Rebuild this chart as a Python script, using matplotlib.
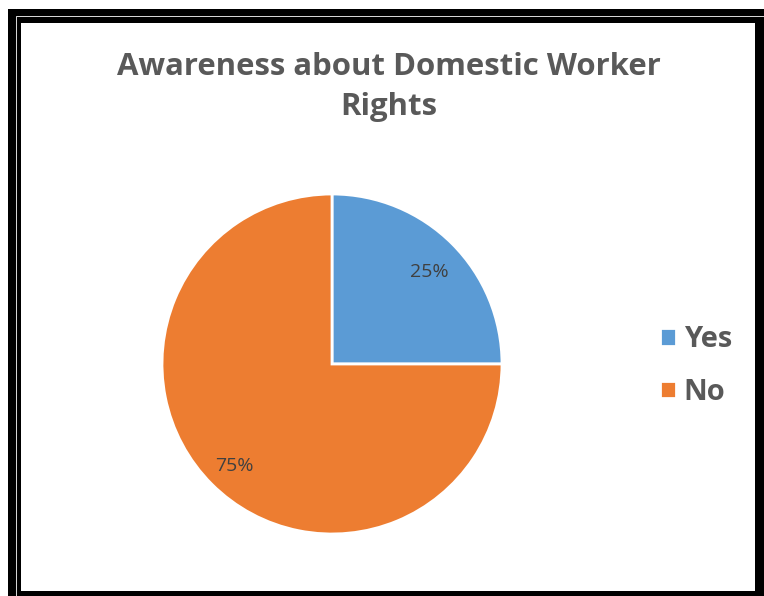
import matplotlib.pyplot as plt
from matplotlib.patches import Rectangle

labels = ["Yes", "No"]
shares = [25, 75]
colors = ["#5B9BD5", "#ED7D31"]

W, H = 764, 596

fig = plt.figure(figsize=(W / 100, H / 100), dpi=100)
fig.patch.set_facecolor("white")

# thick black frame round the chart area (kept below the axes)
fig.patches.append(Rectangle((8 / W, 0), (W - 8) / W, (H - 9) / H,
                             transform=fig.transFigure, facecolor="black",
                             edgecolor="none", zorder=-3))
fig.patches.append(Rectangle((15.5 / W, 0), (W - 15.5) / W, (H - 16) / H,
                             transform=fig.transFigure, facecolor="none",
                             edgecolor="white", linewidth=0.6, zorder=-2))
fig.patches.append(Rectangle((21 / W, 5 / H), (755 - 21) / W, (591 - 23) / H,
                             transform=fig.transFigure, facecolor="white",
                             edgecolor="none", zorder=-1))

cx, cy, r = 332, 364, 170
ax = fig.add_axes([(cx - r) / W, (H - cy - r) / H, 2 * r / W, 2 * r / H])
wedges, _, autotexts = ax.pie(
    shares, colors=colors, startangle=90, counterclock=False,
    autopct="%d%%", pctdistance=0.81,
    wedgeprops=dict(edgecolor="white", linewidth=2),
    textprops=dict(color="#404040", fontsize=14, family="Open Sans"),
)
# nudge the percentage labels down a touch
for t in autotexts:
    x, y = t.get_position()
    t.set_position((x, y - 0.03))
ax.set_xlim(-1, 1)
ax.set_ylim(-1, 1)

fig.text(389 / W, 1 - 87 / H, "Awareness about Domestic Worker\nRights",
         ha="center", va="center", fontsize=22.4, fontweight="bold",
         color="#595959", family="Open Sans", linespacing=1.45)

leg = fig.legend(wedges, labels, loc="center left",
                 bbox_to_anchor=(634 / W, 1 - 366 / H), frameon=False,
                 prop=dict(size=21, weight="bold", family="Open Sans"),
                 handlelength=0.55, handleheight=0.55, handletextpad=0.25,
                 labelspacing=0.8, labelcolor="#595959")

fig.savefig("out.png", dpi=100)
